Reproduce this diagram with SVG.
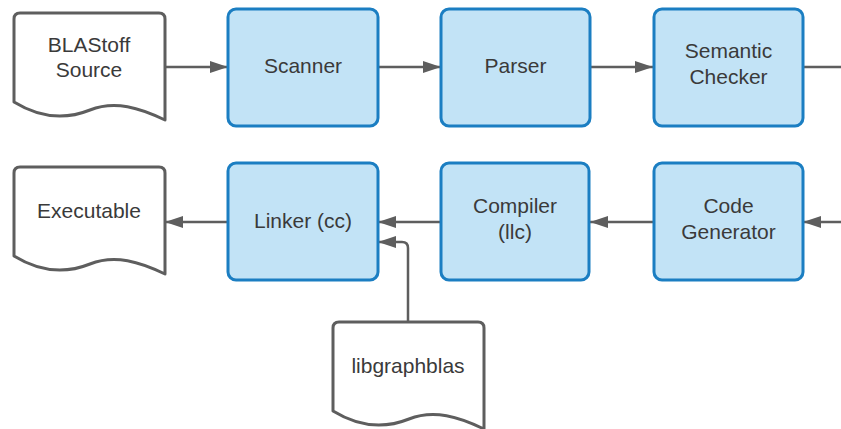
<svg xmlns="http://www.w3.org/2000/svg" width="841" height="429" viewBox="0 0 841 429">
<defs>
<style>
.box{fill:#c2e3f6;stroke:#1b7ec2;stroke-width:3}
.doc{fill:#ffffff;stroke:#5e5e5e;stroke-width:3;stroke-linejoin:round}
.lbl{font-family:"Liberation Sans",Arial,sans-serif;font-size:21px;fill:#3a3a3a;text-anchor:middle}
.edge{fill:none;stroke:#5e5e5e;stroke-width:2.5}
</style>
<marker id="ah" viewBox="0 0 18 12" refX="18" refY="6" markerWidth="18" markerHeight="12" markerUnits="userSpaceOnUse" orient="auto">
<path d="M0,0 L18,6 L0,12 Z" fill="#5e5e5e"/>
</marker>
<path id="docshape" d="M0,6 Q0,0 6,0 L145,0 Q151,0 151,6 L151,107 C126,95 101,87 76,97 C51,107 26,105 0,89 Z"/>
</defs>
<g id="connectors">
<line class="edge" x1="165" y1="67" x2="228" y2="67" marker-end="url(#ah)"/>
<line class="edge" x1="378" y1="67" x2="441" y2="67" marker-end="url(#ah)"/>
<line class="edge" x1="590" y1="67" x2="653" y2="67" marker-end="url(#ah)"/>
<line class="edge" x1="803" y1="67" x2="841" y2="67"/>
<line class="edge" x1="841" y1="222" x2="803" y2="222" marker-end="url(#ah)"/>
<line class="edge" x1="653" y1="222" x2="590" y2="222" marker-end="url(#ah)"/>
<line class="edge" x1="440" y1="222" x2="378" y2="222" marker-end="url(#ah)"/>
<line class="edge" x1="228" y1="222" x2="165" y2="222" marker-end="url(#ah)"/>
<path class="edge" d="M408,322 L408,248 Q408,242 402,242 L378,242" marker-end="url(#ah)"/>
</g>
<g id="blastoff-source">
<use href="#docshape" class="doc" transform="translate(14,13)"/>
<text class="lbl" x="89" y="52">BLAStoff</text>
<text class="lbl" x="89" y="77">Source</text>
</g>
<g id="scanner">
<rect class="box" x="228" y="9" width="150" height="117" rx="8"/>
<text class="lbl" x="303" y="73">Scanner</text>
</g>
<g id="parser">
<rect class="box" x="441" y="9" width="149" height="117" rx="8"/>
<text class="lbl" x="515.500" y="73">Parser</text>
</g>
<g id="semantic-checker">
<rect class="box" x="654" y="9" width="149" height="117" rx="8"/>
<text class="lbl" x="728.500" y="58">Semantic</text>
<text class="lbl" x="728.500" y="84">Checker</text>
</g>
<g id="code-generator">
<rect class="box" x="654" y="163" width="149" height="117" rx="8"/>
<text class="lbl" x="728.500" y="213">Code</text>
<text class="lbl" x="728.500" y="239">Generator</text>
</g>
<g id="compiler">
<rect class="box" x="441" y="163" width="148" height="117" rx="8"/>
<text class="lbl" x="515" y="213">Compiler</text>
<text class="lbl" x="515" y="239">(llc)</text>
</g>
<g id="linker">
<rect class="box" x="228" y="163" width="150" height="117" rx="8"/>
<text class="lbl" x="303" y="228">Linker (cc)</text>
</g>
<g id="executable">
<use href="#docshape" class="doc" transform="translate(14,167)"/>
<text class="lbl" x="89" y="218">Executable</text>
</g>
<g id="libgraphblas">
<use href="#docshape" class="doc" transform="translate(333,322)"/>
<text class="lbl" x="408" y="373">libgraphblas</text>
</g>
</svg>
